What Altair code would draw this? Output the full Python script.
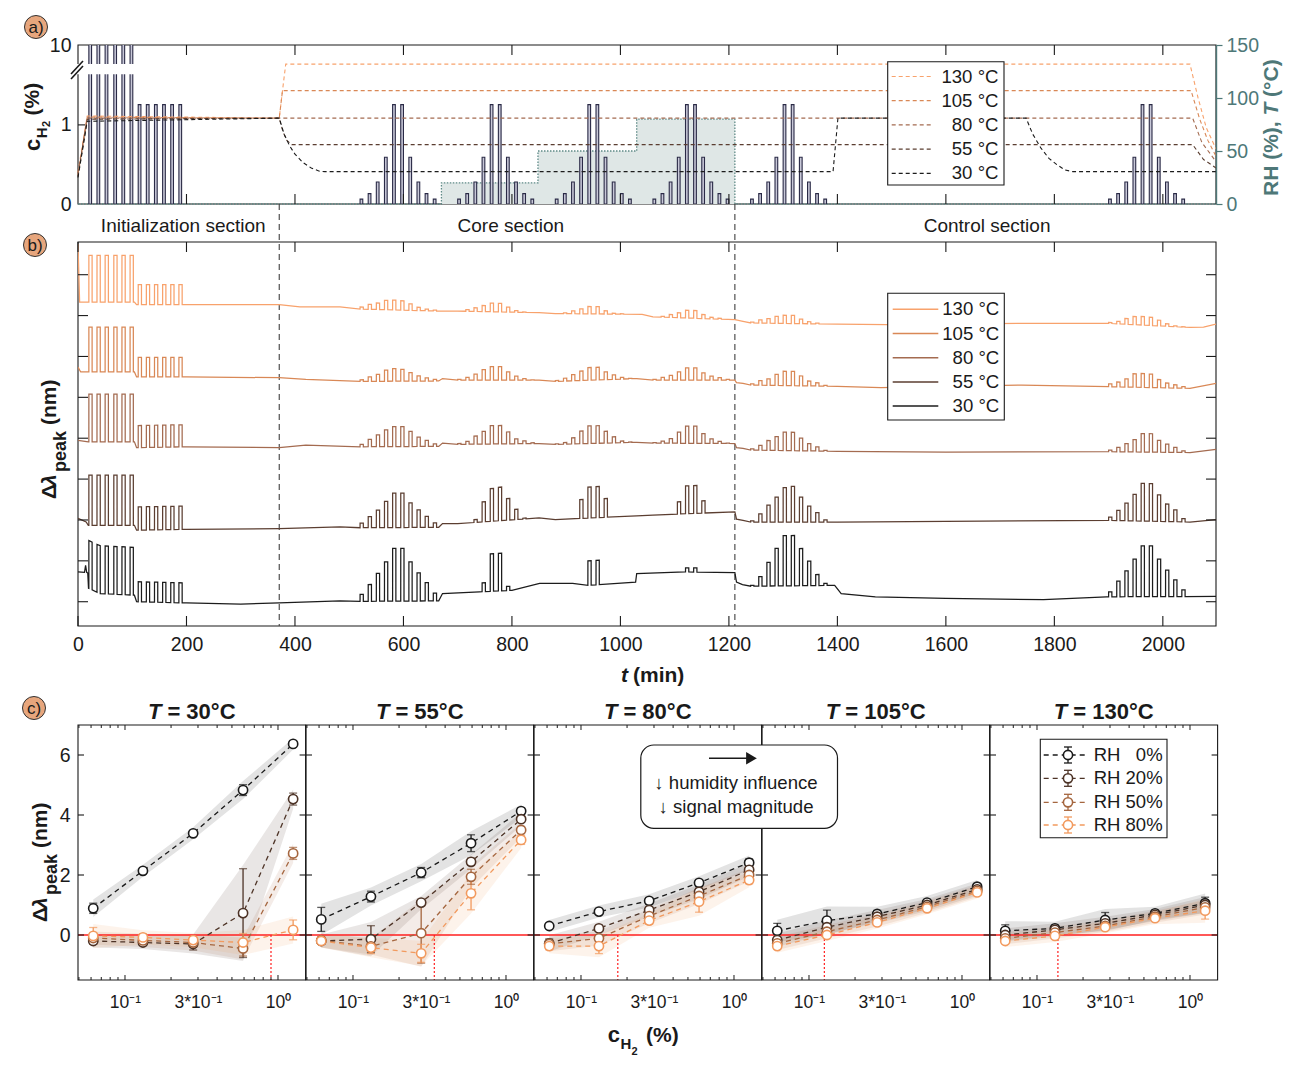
import altair as alt
import numpy as np
import pandas as pd

FONT = "Liberation Sans"
INK = "#1a1a1a"
TEAL = "#4e7878"
RH_FILL = "#dfe7e6"
BAR_FILL = "#c8c8d8"
BAR_EDGE = "#2a2a46"
SEC_GREY = "#404040"
RED = "#ff1f1f"
BADGE = "#e7a67d"

W = 1138
HA, HB, HC = 159, 384, 316
CT = 61
WC = W / 5
T_MAX = 2098

# ---------------- data: panel a ----------------
TEMPS = ["130 °C", "105 °C", "80 °C", "55 °C", "30 °C"]
TEMP_COLORS = ["#f8a26c", "#d98856", "#a46b50", "#5b3e31", "#1c1c1c"]

INIT1_T = [20, 35, 50, 66, 81, 96]
INIT2_T = [111, 126, 141, 156, 171, 186]
GROUP_T = [
    [520, 535, 550, 565, 580, 595, 610, 625, 640, 655],
    [700, 715, 730, 745, 760, 775, 790, 805, 820, 835],
    [880, 895, 910, 925, 940, 955, 970, 985, 1000, 1015],
    [1060, 1075, 1090, 1105, 1120, 1135, 1150, 1165, 1180, 1195],
    [1240, 1255, 1270, 1285, 1300, 1315, 1330, 1345, 1360, 1375],
    [1900, 1915, 1930, 1945, 1960, 1975, 1990, 2005, 2020, 2035],
]
INIT1_C = [10, 10, 10, 10, 10, 10]
INIT2_C = [1.256, 1.256, 1.256, 1.256, 1.256, 1.256]
GROUP_C = [0.062, 0.131, 0.279, 0.591, 1.256, 1.256, 0.591, 0.279, 0.131, 0.062]

RH_T = [0, 670, 848, 1030, 1211, 2098]
RH_V = [0, 20, 50, 80, 0, 0]

T130_T = [0, 17, 371, 377, 383, 2050, 2065, 2080, 2098]
T130_V = [30, 83, 81, 107, 132, 132, 100, 72, 52]
T105_T = [0, 17, 371, 377, 2052, 2068, 2083, 2098]
T105_V = [27, 82, 81, 107, 107, 80, 60, 45]
T80_T = [0, 17, 2055, 2072, 2098]
T80_V = [29, 81, 81, 58, 40]
T55_T = [0, 17, 371, 378, 385, 394, 2055, 2075, 2098]
T55_V = [26, 80, 81, 68, 60, 56, 56, 42, 34]
T30_T = [0, 17, 371, 380, 390, 400, 415, 430, 445, 455, 1392, 1401, 1748, 1760, 1775, 1790, 1805, 1820, 1834, 2098]
T30_V = [25, 78, 81, 66, 55, 47, 39, 34, 31, 30.5, 30.5, 81, 81, 66, 53, 43, 37, 32, 30.5, 30.5]

SECTION_T = [371, 1211]
SECTION_LABELS = ["Initialization section", "Core section", "Control section"]
SECTION_X = [194, 798, 1676]

# ---------------- data: panel b (Δλ, nm, offset traces) ----------------
B130_T = [0, 3, 104, 108, 200, 371, 409, 483, 520, 665, 700, 850, 880, 1040, 1060, 1211, 1226, 1240, 1400, 1490, 1735, 1900, 2050, 2075, 2098]
B130_V = [8.75, 7.33, 7.33, 7.27, 7.27, 7.27, 7.21, 7.21, 7.16, 7.11, 7.11, 7.07, 7.05, 7.03, 6.97, 6.90, 6.86, 6.82, 6.79, 6.78, 6.81, 6.81, 6.71, 6.72, 6.79]
A130_I1 = [1.14, 1.14, 1.14, 1.14, 1.14, 1.14]
A130_I2 = [0.49, 0.49, 0.49, 0.49, 0.49, 0.49]
A130_G = [
    [0.05, 0.12, 0.16, 0.23, 0.24, 0.23, 0.16, 0.08, 0.04, 0.02],
    [0.00, 0.04, 0.09, 0.15, 0.21, 0.21, 0.12, 0.04, 0.01, 0.00],
    [0.00, 0.02, 0.07, 0.12, 0.18, 0.18, 0.08, 0.02, 0.01, 0.00],
    [0.00, 0.02, 0.07, 0.12, 0.19, 0.19, 0.10, 0.04, 0.02, 0.00],
    [0.02, 0.08, 0.11, 0.17, 0.20, 0.20, 0.11, 0.05, 0.02, 0.00],
    [0.02, 0.06, 0.14, 0.20, 0.21, 0.20, 0.14, 0.06, 0.02, 0.01],
]
B105_T = [0, 5, 104, 108, 200, 371, 420, 520, 665, 672, 700, 850, 880, 1030, 1060, 1211, 1214, 1226, 1240, 1400, 1480, 1740, 1900, 2050, 2098]
B105_V = [5.74, 5.62, 5.62, 5.50, 5.50, 5.48, 5.44, 5.39, 5.40, 5.46, 5.42, 5.42, 5.39, 5.46, 5.42, 5.42, 5.36, 5.34, 5.30, 5.27, 5.24, 5.30, 5.26, 5.22, 5.34]
A105_I1 = [1.10, 1.10, 1.10, 1.10, 1.10, 1.10]
A105_I2 = [0.48, 0.48, 0.48, 0.48, 0.48, 0.48]
A105_G = [
    [0.04, 0.11, 0.17, 0.27, 0.31, 0.29, 0.21, 0.13, 0.08, 0.04],
    [0.02, 0.07, 0.15, 0.26, 0.33, 0.33, 0.20, 0.10, 0.04, 0.01],
    [0.02, 0.07, 0.15, 0.23, 0.31, 0.31, 0.19, 0.11, 0.04, 0.01],
    [0.02, 0.07, 0.12, 0.20, 0.30, 0.30, 0.18, 0.10, 0.06, 0.02],
    [0.03, 0.11, 0.16, 0.27, 0.35, 0.35, 0.24, 0.12, 0.08, 0.02],
    [0.07, 0.12, 0.20, 0.33, 0.34, 0.33, 0.20, 0.12, 0.08, 0.04],
]
B80_T = [0, 19, 104, 108, 200, 371, 420, 520, 665, 672, 700, 850, 880, 1030, 1060, 1211, 1214, 1226, 1240, 1400, 1600, 1900, 2050, 2098]
B80_V = [3.95, 3.91, 3.91, 3.77, 3.79, 3.77, 3.83, 3.79, 3.80, 3.88, 3.85, 3.87, 3.85, 3.90, 3.88, 3.87, 3.77, 3.75, 3.71, 3.68, 3.66, 3.67, 3.65, 3.73]
A80_I1 = [1.17, 1.17, 1.17, 1.17, 1.17, 1.17]
A80_I2 = [0.54, 0.54, 0.54, 0.54, 0.54, 0.54]
A80_G = [
    [0.06, 0.18, 0.29, 0.41, 0.49, 0.49, 0.37, 0.23, 0.15, 0.06],
    [0.02, 0.07, 0.20, 0.31, 0.45, 0.45, 0.29, 0.12, 0.07, 0.02],
    [0.01, 0.04, 0.15, 0.31, 0.43, 0.43, 0.29, 0.15, 0.04, 0.01],
    [0.01, 0.05, 0.11, 0.27, 0.42, 0.42, 0.24, 0.11, 0.05, 0.01],
    [0.03, 0.12, 0.24, 0.34, 0.45, 0.45, 0.31, 0.18, 0.10, 0.02],
    [0.04, 0.11, 0.20, 0.30, 0.45, 0.45, 0.29, 0.20, 0.12, 0.04],
]
B55_T = [0, 15, 19, 104, 108, 200, 371, 483, 520, 665, 672, 700, 850, 880, 1030, 1060, 1211, 1214, 1226, 1240, 1400, 1900, 2050, 2098]
B55_V = [2.04, 1.95, 1.87, 1.87, 1.75, 1.77, 1.79, 1.83, 1.81, 1.82, 1.91, 1.91, 2.05, 2.01, 2.10, 2.12, 2.20, 2.02, 1.99, 1.95, 1.95, 1.99, 1.95, 2.01]
A55_I1 = [1.23, 1.23, 1.23, 1.23, 1.23, 1.23]
A55_I2 = [0.57, 0.57, 0.57, 0.57, 0.57, 0.57]
A55_G = [
    [0.11, 0.27, 0.43, 0.64, 0.84, 0.84, 0.60, 0.43, 0.27, 0.11],
    [0.00, 0.00, 0.07, 0.49, 0.80, 0.82, 0.53, 0.25, 0.02, 0.00],
    [0.00, 0.00, 0.00, 0.46, 0.76, 0.76, 0.46, 0.00, 0.00, 0.00],
    [0.00, 0.00, 0.00, 0.30, 0.68, 0.68, 0.30, 0.00, 0.00, 0.00],
    [0.03, 0.20, 0.41, 0.61, 0.84, 0.87, 0.61, 0.39, 0.23, 0.05],
    [0.08, 0.25, 0.43, 0.65, 0.92, 0.92, 0.65, 0.43, 0.29, 0.08],
]
B30_T = [0, 12, 14, 16, 18, 19.4, 40, 104, 108, 200, 300, 371, 483, 520, 665, 672, 740, 800, 851, 912, 940, 1028, 1030, 1119, 1211, 1214, 1225, 1240, 1395, 1407, 1470, 1600, 1780, 1896, 2098]
B30_V = [0.73, 0.72, 0.89, 0.72, 0.70, 0.33, 0.20, 0.16, 0.00, -0.03, -0.06, -0.03, 0.02, 0.01, 0.02, 0.20, 0.24, 0.28, 0.45, 0.45, 0.40, 0.48, 0.69, 0.73, 0.71, 0.48, 0.42, 0.38, 0.40, 0.20, 0.12, 0.08, 0.05, 0.12, 0.13]
A30_I1 = [1.17, 1.17, 1.17, 1.17, 1.17, 1.17]
A30_I2 = [0.49, 0.49, 0.49, 0.49, 0.49, 0.49]
A30_G = [
    [0.17, 0.41, 0.68, 0.96, 1.29, 1.29, 0.96, 0.69, 0.45, 0.19],
    [0.00, 0.00, 0.00, 0.22, 0.92, 0.92, 0.10, 0.00, 0.00, 0.00],
    [0.00, 0.00, 0.00, 0.00, 0.60, 0.60, 0.00, 0.00, 0.00, 0.00],
    [0.00, 0.00, 0.00, 0.00, 0.10, 0.10, 0.00, 0.00, 0.00, 0.00],
    [0.02, 0.23, 0.58, 0.92, 1.23, 1.23, 0.91, 0.60, 0.27, 0.05],
    [0.12, 0.38, 0.63, 0.92, 1.24, 1.24, 0.92, 0.65, 0.41, 0.16],
]
PULSE_ON = 6

# ---------------- data: panel c ----------------
TC = ["30", "55", "80", "105", "130"]
CONC = [0.062, 0.131, 0.279, 0.591, 1.256]
RH_KEYS = ["RH0", "RH20", "RH50", "RH80"]
RH_NAMES = ["RH\u00a0\u00a0\u00a00%", "RH 20%", "RH 50%", "RH 80%"]
RH_COLORS = ["#1a1a1a", "#4d3326", "#a5663f", "#f29a5e"]
D30 = [[0.89, 2.14, 3.39, 4.83, 6.37], [-0.20, -0.25, -0.30, 0.73, 4.53], [-0.10, -0.18, -0.25, -0.45, 2.72], [-0.03, -0.08, -0.17, -0.25, 0.17]]
E30 = [[0.17, 0.08, 0.08, 0.18, 0.07], [0.10, 0.10, 0.20, 1.48, 0.20], [0.10, 0.10, 0.15, 0.25, 0.20], [0.28, 0.12, 0.12, 0.30, 0.33]]
D55 = [[0.52, 1.28, 2.08, 3.06, 4.13], [-0.20, -0.14, 1.08, 2.44, 3.86], [-0.18, -0.38, 0.06, 1.94, 3.50], [-0.20, -0.42, -0.61, 1.39, 3.17]]
E55 = [[0.40, 0.18, 0.17, 0.28, 0.10], [0.10, 0.45, 0.10, 0.12, 0.10], [0.12, 0.15, 1.00, 0.25, 0.12], [0.10, 0.20, 0.30, 0.55, 0.15]]
D80 = [[0.30, 0.78, 1.14, 1.74, 2.41], [-0.28, 0.22, 0.83, 1.44, 2.17], [-0.30, -0.11, 0.63, 1.30, 2.00], [-0.37, -0.37, 0.48, 1.11, 1.83]]
E80 = [[0.08, 0.08, 0.10, 0.10, 0.12], [0.15, 0.10, 0.10, 0.12, 0.10], [0.12, 0.12, 0.12, 0.15, 0.10], [0.12, 0.25, 0.12, 0.35, 0.12]]
D105 = [[0.14, 0.48, 0.70, 1.08, 1.61], [-0.17, 0.26, 0.61, 1.00, 1.52], [-0.28, 0.11, 0.50, 0.94, 1.47], [-0.37, 0.00, 0.42, 0.89, 1.42]]
E105 = [[0.25, 0.35, 0.12, 0.10, 0.10], [0.10, 0.10, 0.10, 0.08, 0.08], [0.10, 0.10, 0.10, 0.08, 0.08], [0.10, 0.08, 0.08, 0.08, 0.08]]
D130 = [[0.14, 0.22, 0.50, 0.72, 1.06], [0.00, 0.17, 0.39, 0.67, 1.00], [-0.11, 0.08, 0.30, 0.61, 0.92], [-0.20, -0.03, 0.26, 0.56, 0.81]]
E130 = [[0.20, 0.10, 0.25, 0.10, 0.20], [0.10, 0.10, 0.10, 0.08, 0.15], [0.08, 0.08, 0.08, 0.08, 0.12], [0.08, 0.08, 0.08, 0.08, 0.28]]
LOD_X = [0.90, 0.34, 0.174, 0.126, 0.137]
XC_DOM = [0.0493, 1.515]
XC_MINOR = [0.05, 0.06, 0.07, 0.08, 0.09, 0.2, 0.3, 0.4, 0.5, 0.6, 0.7, 0.8, 0.9]
XC_MAJOR = [0.1, 1.0]

ONE = pd.DataFrame({"k": [0]})


# ---------------- helpers ----------------
def text_at(x, y, s, size, weight="bold", style="normal", angle=0, align="center",
            baseline="middle", color=INK):
    return alt.Chart(ONE).mark_text(
        text=s, font=FONT, fontSize=size, fontWeight=weight, fontStyle=style,
        angle=angle, align=align, baseline=baseline, color=color
    ).encode(x=alt.value(x), y=alt.value(y))


def seg(x1, y1, x2, y2, color=INK, width=1.0, dash=None):
    kw = dict(color=color, strokeWidth=width)
    if dash:
        kw["strokeDash"] = dash
    return alt.Chart(ONE).mark_rule(**kw).encode(
        x=alt.value(x1), y=alt.value(y1), x2=alt.value(x2), y2=alt.value(y2))


def box(x1, y1, x2, y2, fill="white", stroke=INK, width=1.1, radius=0):
    kw = dict(fill=fill, stroke=stroke, strokeWidth=width)
    if radius:
        kw["cornerRadius"] = radius
    return alt.Chart(ONE).mark_rect(**kw).encode(
        x=alt.value(x1), x2=alt.value(x2), y=alt.value(y1), y2=alt.value(y2))


def frame(x1, y1, x2, y2):
    return alt.Chart(ONE).mark_rect(fillOpacity=0, stroke=INK, strokeWidth=1.1).encode(
        x=alt.value(x1), x2=alt.value(x2), y=alt.value(y1), y2=alt.value(y2))


def badge(x, y, s):
    dot = alt.Chart(ONE).mark_point(
        shape="circle", size=530, filled=True, fill=BADGE, stroke="#333333",
        strokeWidth=1, opacity=1).encode(x=alt.value(x), y=alt.value(y))
    return [dot, text_at(x, y + 0.5, s, 17, weight="normal")]


def dl_title(x, y):
    # rotated "Δλ_peak (nm)"; y = start (bottom) of the text
    return [
        text_at(x, y, "Δ", 21, angle=270, align="left"),
        text_at(x, y - 13, "λ", 21, style="italic", angle=270, align="left"),
        text_at(x + 11, y - 27, "peak", 18, angle=270, align="left"),
        text_at(x, y - 74, "(nm)", 21, angle=270, align="left"),
    ]


def trace_points(bt, bv, i1, i2, groups):
    pulses = list(zip(INIT1_T, i1)) + list(zip(INIT2_T, i2))
    for gt, ga in zip(GROUP_T, groups):
        pulses += list(zip(gt, ga))
    wins = [(s, s + PULSE_ON) for s, a in pulses if a > 0.004]
    pts = [(t, v) for t, v in zip(bt, bv)
           if not any(a0 - 0.5 <= t <= a1 + 0.5 for a0, a1 in wins)]
    for s, a in pulses:
        if a <= 0.004:
            continue
        b0 = float(np.interp(s, bt, bv))
        b1 = float(np.interp(s + PULSE_ON, bt, bv))
        pts += [(s, b0), (s + 0.05, b0 + a), (s + PULSE_ON, b1 + a), (s + PULSE_ON + 0.05, b1)]
    pts.sort()
    return pts


# ---------------- panel a ----------------
def panel_a():
    xs = alt.Scale(domain=[0, T_MAX], nice=False, zero=False)
    ls = alt.Scale(domain=[0, 2.01], nice=False, zero=False)
    rs = alt.Scale(domain=[0, 150], nice=False, zero=False)
    lax = alt.Axis(values=[0, 1, 2.01],
                   labelExpr="datum.value > 1.5 ? '10' : (datum.value > 0.5 ? '1' : '0')",
                   ticks=False, domain=False, grid=False, labelFontSize=19.5,
                   labelPadding=7, title=None)
    rax = alt.Axis(orient="right", values=[0, 50, 100, 150], ticks=True, tickSize=6,
                   tickColor=TEAL, tickWidth=1.2, domain=True, domainColor=TEAL,
                   domainWidth=1.4, grid=False, labelColor=TEAL, labelFontSize=19.5,
                   labelPadding=4, title=None, zindex=1)

    def X(f):
        return alt.X(f, scale=xs, axis=None)

    rh_df = pd.DataFrame({"t": RH_T, "rh": RH_V})
    g_rh = alt.layer(
        alt.Chart(rh_df).mark_area(interpolate="step-after", color=RH_FILL, opacity=1).encode(
            x=X("t:Q"), y=alt.Y("rh:Q", scale=rs, axis=rax)),
        alt.Chart(rh_df).mark_line(interpolate="step-after", color="#5f8a87",
                                   strokeDash=[1.5, 1.5], strokeWidth=1.3).encode(
            x=X("t:Q"), y=alt.Y("rh:Q", scale=rs, axis=rax)),
    )

    bar_t = INIT1_T + INIT2_T + sum(GROUP_T, [])
    bar_h = INIT1_C + INIT2_C + GROUP_C * len(GROUP_T)
    bars_df = pd.DataFrame({"t0": bar_t, "t1": [t + 5 for t in bar_t], "z": 0.0, "h": bar_h})
    brk_df = pd.DataFrame({"t0": [-8], "t1": [104], "y0": [1.64], "y1": [1.77]})
    one_df = pd.DataFrame({"y": [1.0]})
    g_left = alt.layer(
        alt.Chart(bars_df).mark_rect(clip=True, fill=BAR_FILL, stroke=BAR_EDGE, strokeWidth=1.1).encode(
            x=X("t0:Q"), x2="t1:Q", y=alt.Y("z:Q", scale=ls, axis=lax), y2="h:Q"),
        alt.Chart(brk_df).mark_rect(fill="white").encode(
            x=X("t0:Q"), x2="t1:Q", y=alt.Y("y0:Q", scale=ls, axis=lax), y2="y1:Q"),
        alt.Chart(one_df).mark_rule(color=INK, strokeWidth=1.1).encode(
            y=alt.Y("y:Q", scale=ls, axis=lax), x=alt.value(0), x2=alt.value(7)),
    )

    rows = []
    for name, tt, vv in zip(TEMPS, [T130_T, T105_T, T80_T, T55_T, T30_T],
                            [T130_V, T105_V, T80_V, T55_V, T30_V]):
        for k, (t, v) in enumerate(zip(tt, vv)):
            rows.append({"temp": name, "t": t, "v": v, "i": k})
    tdf = pd.DataFrame(rows)
    g_temp = alt.Chart(tdf).mark_line(strokeDash=[4, 3], strokeWidth=1.1).encode(
        x=X("t:Q"), y=alt.Y("v:Q", scale=rs, axis=None),
        color=alt.Color("temp:N", scale=alt.Scale(domain=TEMPS, range=TEMP_COLORS), legend=None),
        order="i:Q")

    tick_df = pd.DataFrame({"t": list(range(200, 2001, 200))})
    misc = [
        alt.Chart(tick_df).mark_rule(color=INK, strokeWidth=1.1).encode(
            x=X("t:Q"), y=alt.value(0), y2=alt.value(10)),
        alt.Chart(tick_df).mark_rule(color=INK, strokeWidth=1.1).encode(
            x=X("t:Q"), y=alt.value(HA - 10), y2=alt.value(HA)),
        seg(-7, 29, 5, 16, INK, 1.6),
        seg(-7, 34, 5, 21, INK, 1.6),
    ]
    sec_df = pd.DataFrame({"t": SECTION_X, "label": SECTION_LABELS})
    misc.append(alt.Chart(sec_df).mark_text(font=FONT, fontSize=19, color=INK, baseline="middle").encode(
        x=X("t:Q"), y=alt.value(HA + 22), text="label:N"))
    # legend
    misc.append(box(809.7, 16.7, 926, 140))
    for k, (lab, col) in enumerate(zip(TEMPS, TEMP_COLORS)):
        y = 31.5 + 24.2 * k
        misc.append(seg(813.7, y, 855.3, y, col, 1.2, [4, 3]))
        misc.append(text_at(920.5, y, lab, 18.6, weight="normal", align="right"))
    # left title  c_H2 (%)
    misc += [
        text_at(-45, 106, "c", 22, angle=270, align="left"),
        text_at(-36, 93.3, "H", 15, angle=270, align="left"),
        text_at(-31, 82, "2", 11, angle=270, align="left"),
        text_at(-45, 70.5, "(%)", 21, angle=270, align="left"),
    ]
    # right title  RH (%), T (°C)
    misc += [
        text_at(1194, 151, "RH (%),", 21, angle=270, align="left", color=TEAL),
        text_at(1194, 70.5, "T", 21, style="italic", angle=270, align="left", color=TEAL),
        text_at(1194, 51.9, "(°C)", 21, angle=270, align="left", color=TEAL),
    ]
    misc += badge(-42, -18, "a)")

    return alt.layer(frame(0, 0, W, HA), g_rh, g_left, g_temp, *misc).resolve_scale(
        y="independent").properties(width=W, height=HA)


# ---------------- panel b ----------------
def panel_b():
    xs = alt.Scale(domain=[0, T_MAX], nice=False, zero=False)
    ys = alt.Scale(domain=[-0.594, 8.8], nice=False, zero=False)
    xax = alt.Axis(values=list(range(0, 2001, 200)), format="d", ticks=False, domain=False,
                   grid=False, labelFontSize=19.5, labelPadding=9, labelFlush=False, title=None)

    def X(f):
        return alt.X(f, scale=xs, axis=xax, title=None)

    def Y(f):
        return alt.Y(f, scale=ys, axis=None)

    traces = [
        ("130 °C", B130_T, B130_V, A130_I1, A130_I2, A130_G),
        ("105 °C", B105_T, B105_V, A105_I1, A105_I2, A105_G),
        ("80 °C", B80_T, B80_V, A80_I1, A80_I2, A80_G),
        ("55 °C", B55_T, B55_V, A55_I1, A55_I2, A55_G),
        ("30 °C", B30_T, B30_V, A30_I1, A30_I2, A30_G),
    ]
    rows = []
    for name, bt, bv, i1, i2, g in traces:
        for k, (t, v) in enumerate(trace_points(bt, bv, i1, i2, g)):
            rows.append({"temp": name, "t": t, "v": v, "i": k})
    df = pd.DataFrame(rows)

    sec_df = pd.DataFrame({"t": SECTION_T})
    tick_df = pd.DataFrame({"t": list(range(0, 2001, 200))})
    ytick_df = pd.DataFrame({"v": list(range(0, 9))})

    layers = [
        frame(0, 0, W, HB),
        alt.Chart(sec_df).mark_rule(color=SEC_GREY, strokeDash=[6, 4], strokeWidth=1.1).encode(
            x=X("t:Q"), y=alt.value(-38), y2=alt.value(HB)),
        alt.Chart(df).mark_line(strokeWidth=1.25, clip=True).encode(
            x=X("t:Q"), y=Y("v:Q"),
            color=alt.Color("temp:N", scale=alt.Scale(domain=TEMPS, range=TEMP_COLORS), legend=None),
            order="i:Q"),
        alt.Chart(tick_df).mark_rule(color=INK, strokeWidth=1.1).encode(
            x=X("t:Q"), y=alt.value(0), y2=alt.value(10)),
        alt.Chart(tick_df).mark_rule(color=INK, strokeWidth=1.1).encode(
            x=X("t:Q"), y=alt.value(HB - 10), y2=alt.value(HB)),
        alt.Chart(ytick_df).mark_rule(color=INK, strokeWidth=1.1).encode(
            y=Y("v:Q"), x=alt.value(0), x2=alt.value(10)),
        alt.Chart(ytick_df).mark_rule(color=INK, strokeWidth=1.1).encode(
            y=Y("v:Q"), x=alt.value(W - 10), x2=alt.value(W)),
        box(809.7, 51.3, 926.3, 178),
    ]
    for k, (lab, col) in enumerate(zip(TEMPS, TEMP_COLORS)):
        y = 67.3 + 24.2 * k
        layers.append(seg(814.7, y, 860.3, y, col, 1.5))
        layers.append(text_at(921.3, y, lab, 18.6, weight="normal", align="right"))
    layers += dl_title(-28, 257)
    # x title  t (min)
    layers += [
        text_at(550, 434, "t", 21, style="italic", align="right"),
        text_at(555, 434, "(min)", 21, align="left"),
    ]
    layers += badge(-43, 3, "b)")
    return alt.layer(*layers).properties(width=W, height=HB)


# ---------------- panel c ----------------
def panel_c(i):
    DS = [D30, D55, D80, D105, D130][i]
    ES = [E30, E55, E80, E105, E130][i]
    rows = []
    for k in range(4):
        for j in range(5):
            v, e = DS[k][j], ES[k][j]
            rows.append(dict(rh=RH_KEYS[k], x=CONC[j], v=v, lo=v - e, hi=v + e,
                             blo=v - e - 0.12, bhi=v + e + 0.12))
    df = pd.DataFrame(rows)
    xs = alt.Scale(type="log", domain=XC_DOM, nice=False)
    ys = alt.Scale(domain=[-1.5, 7], range=[HC, CT], nice=False, zero=False)
    cs = alt.Scale(domain=RH_KEYS, range=RH_COLORS)
    xax = alt.Axis(values=[0.1, 0.3, 1.0],
                   labelExpr="datum.value > 0.5 ? '10\u2070' : (datum.value > 0.2 ? '3*10\u207b\u00b9' : '10\u207b\u00b9')",
                   ticks=False, domain=False, grid=False, labelFontSize=17.5,
                   labelPadding=13, labelFlush=False, title=None)
    yax = None
    if i == 0:
        yax = alt.Axis(values=[0, 2, 4, 6], ticks=False, domain=False, grid=False,
                       labelFontSize=19.5, labelPadding=8, title=None)

    def X(f):
        return alt.X(f, scale=xs, axis=xax, title=None)

    def Y(f):
        return alt.Y(f, scale=ys, axis=yax, title=None)

    col = alt.Color("rh:N", scale=cs, legend=None)
    zero_df = pd.DataFrame({"y": [0.0]})
    lod_df = pd.DataFrame({"x": [LOD_X[i]], "y0": [0.0], "y1": [-1.5]})
    minor_df = pd.DataFrame({"x": XC_MINOR})
    major_df = pd.DataFrame({"x": XC_MAJOR})
    ytick_df = pd.DataFrame({"y": [0, 2, 4, 6]})

    layers = [
        alt.Chart(df).mark_area(opacity=0.12).encode(x=X("x:Q"), y=Y("blo:Q"), y2="bhi:Q", color=col),
        alt.Chart(zero_df).mark_rule(color=RED, strokeWidth=1.3).encode(
            y=Y("y:Q"), x=alt.value(0), x2=alt.value(WC)),
        alt.Chart(lod_df).mark_rule(color=RED, strokeWidth=1.2, strokeDash=[2, 2]).encode(
            x=X("x:Q"), y=Y("y0:Q"), y2="y1:Q"),
        alt.Chart(df).mark_line(strokeDash=[5, 4], strokeWidth=1.3).encode(
            x=X("x:Q"), y=Y("v:Q"), color=col),
        alt.Chart(df).mark_rule(strokeWidth=1.3).encode(x=X("x:Q"), y=Y("lo:Q"), y2="hi:Q", color=col),
        alt.Chart(df).mark_tick(orient="horizontal", size=8, thickness=1.3).encode(
            x=X("x:Q"), y=Y("lo:Q"), color=col),
        alt.Chart(df).mark_tick(orient="horizontal", size=8, thickness=1.3).encode(
            x=X("x:Q"), y=Y("hi:Q"), color=col),
        alt.Chart(df).mark_point(shape="circle", size=85, strokeWidth=1.6, filled=True,
                                 fill="white", opacity=1).encode(
            x=X("x:Q"), y=Y("v:Q"), stroke=alt.Stroke("rh:N", scale=cs, legend=None)),
        frame(0, CT, WC, HC),
        alt.Chart(minor_df).mark_rule(color=INK, strokeWidth=1).encode(
            x=X("x:Q"), y=alt.value(HC - 3), y2=alt.value(HC)),
        alt.Chart(minor_df).mark_rule(color=INK, strokeWidth=1).encode(
            x=X("x:Q"), y=alt.value(CT), y2=alt.value(CT + 3)),
        alt.Chart(major_df).mark_rule(color=INK, strokeWidth=1).encode(
            x=X("x:Q"), y=alt.value(HC - 5), y2=alt.value(HC)),
        alt.Chart(major_df).mark_rule(color=INK, strokeWidth=1).encode(
            x=X("x:Q"), y=alt.value(CT), y2=alt.value(CT + 5)),
        alt.Chart(ytick_df).mark_rule(color=INK, strokeWidth=1.1).encode(
            y=Y("y:Q"), x=alt.value(0), x2=alt.value(6)),
        alt.Chart(ytick_df).mark_rule(color=INK, strokeWidth=1.1).encode(
            y=Y("y:Q"), x=alt.value(WC - 6), x2=alt.value(WC)),
    ]
    # header  T = xx°C
    rest = "= " + TC[i] + "°C"
    total = 22 * (0.611 + 0.278 + 0.584 + 0.278 + 0.556 * len(TC[i]) + 0.4 + 0.722)
    x0 = WC / 2 - total / 2 + 22 * 0.611
    layers += [
        text_at(x0, 47.7, "T", 22, style="italic", align="right"),
        text_at(x0 + 6, 47.7, rest, 22, align="left"),
    ]
    if i == 0:
        layers += badge(-44, 44, "c)")
        layers += dl_title(-37, 258)
    if i == 2:
        layers += [
            text_at(73.8, 378, "c", 22, align="left", baseline="alphabetic"),
            text_at(86.5, 385, "H", 15, align="left", baseline="alphabetic"),
            text_at(97.5, 391, "2", 11, align="left", baseline="alphabetic"),
            text_at(112, 378, "(%)", 21, align="left", baseline="alphabetic"),
        ]
    if i == 3:
        arrow_head = alt.Chart(ONE).mark_point(shape="triangle-right", size=80, filled=True,
                                                fill=INK, stroke=INK, opacity=1).encode(
            x=alt.value(-11), y=alt.value(94.3))
        layers += [
            box(-121.2, 81, 75.5, 164.3, radius=13, width=1.2),
            seg(-53, 94.3, -13, 94.3, INK, 1.4),
            arrow_head,
            text_at(-26, 118.7, "↓ humidity influence", 18.6, weight="normal"),
            text_at(-26, 142.7, "↓ signal magnitude", 18.6, weight="normal"),
        ]
    if i == 4:
        layers.append(box(50.3, 75.3, 177, 173.7))
        for k in range(4):
            y = [91, 114.3, 138.3, 161][k]
            c = RH_COLORS[k]
            layers += [
                seg(53.7, y, 95.3, y, c, 1.3, [5, 4]),
                seg(78, y - 8, 78, y + 8, c, 1.3),
                seg(74, y - 8, 82, y - 8, c, 1.3),
                seg(74, y + 8, 82, y + 8, c, 1.3),
                alt.Chart(ONE).mark_point(shape="circle", size=85, strokeWidth=1.6, filled=True,
                                          fill="white", stroke=c, opacity=1).encode(
                    x=alt.value(78), y=alt.value(y)),
                text_at(103.7, y, RH_NAMES[k], 18.5, weight="normal", align="left"),
            ]
    return alt.layer(*layers).properties(width=WC, height=HC)


pa = panel_a()
pb = panel_b()
pc = alt.hconcat(*[panel_c(i) for i in range(5)], spacing=0, bounds="flush")

chart = alt.vconcat(pa, pb, pc, spacing=38, bounds="flush").resolve_scale(
    color="independent", stroke="independent"
).properties(
    padding={"left": 11, "top": 4, "right": 0, "bottom": 0}
).configure_view(stroke="transparent").configure_axis(labelFont=FONT, labelColor=INK)

chart.save("out.html", embed_options={"renderer": "svg", "actions": False})
